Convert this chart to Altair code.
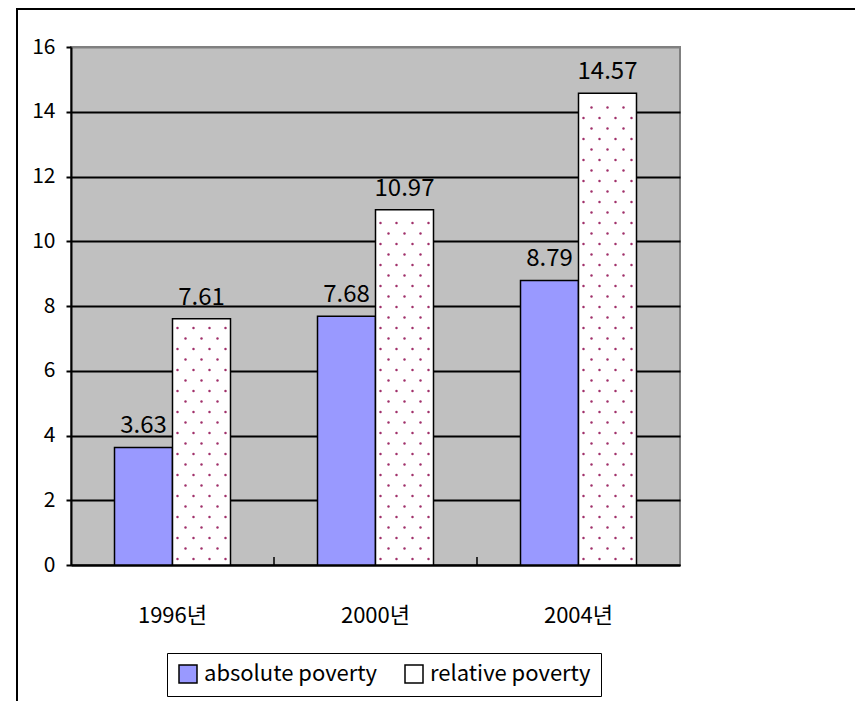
import altair as alt
import pandas as pd

years = ["1996년", "2000년", "2004년"]
absolute = [3.63, 7.68, 8.79]
relative = [7.61, 10.97, 14.57]
series = ["absolute poverty", "relative poverty"]
colors = ["#9999FF", "#FFFFFF"]

W, H = 609, 518
BW = 0.2857
FONT = "Noto Sans CJK KR"

rows = []
for i, yr in enumerate(years):
    rows.append(dict(year=yr, idx=i, series=series[0], value=absolute[i], x0=i - BW, x1=i, xc=i - BW / 2))
    rows.append(dict(year=yr, idx=i, series=series[1], value=relative[i], x0=i, x1=i + BW, xc=i + BW / 2))
df = pd.DataFrame(rows)

# dotted texture for the "relative poverty" bars
ppu_y = H / 16.0
ppu_x = W / 3.0
dots = []
for i, v in enumerate(relative):
    k = 0
    while True:
        ypx = 6 + k * 10.5
        if ypx > v * ppu_y - 4:
            break
        offs = [5, 21, 37, 53] if k % 2 == 0 else [13, 29, 45]
        for o in offs:
            dots.append(dict(x=i + o / ppu_x, y=ypx / ppu_y))
        k += 1
dots_df = pd.DataFrame(dots)

cats_df = pd.DataFrame({"year": years, "idx": list(range(len(years)))})
bounds_df = pd.DataFrame({"b": [i + 0.5 for i in range(len(years) - 1)]})
one = pd.DataFrame({"a": [0]})

xs = alt.Scale(domain=[-0.5, len(years) - 0.5], nice=False, zero=False)
ys = alt.Scale(domain=[0, 16], nice=False)

bars = alt.Chart(df).mark_rect(stroke="black", strokeWidth=1.5).encode(
    x=alt.X("x0:Q", scale=xs, axis=alt.Axis(labels=False, ticks=False, grid=False,
                                             domainColor="black", domainWidth=2, title=None)),
    x2="x1",
    y=alt.Y("value:Q", scale=ys, axis=alt.Axis(
        values=list(range(0, 17, 2)), format="d", title=None,
        tickSize=5, tickColor="black", tickWidth=2,
        labelFont=FONT, labelFontSize=21, labelColor="black", labelPadding=11,
        domainColor="black", domainWidth=2,
        grid=True, gridWidth=2,
        gridColor={"condition": {"test": "datum.value >= 16", "value": "#808080"}, "value": "black"},
    )),
    y2=alt.datum(0),
    color=alt.Color("series:N", scale=alt.Scale(domain=series, range=colors),
                    legend=alt.Legend(orient="none", legendX=96, legendY=606,
                                      direction="horizontal", title=None,
                                      labelFont=FONT, labelFontSize=22, labelColor="black",
                                      labelLimit=400,
                                      symbolType="square", symbolSize=324,
                                      symbolStrokeColor="black", symbolStrokeWidth=1.5,
                                      symbolOpacity=1,
                                      strokeColor="black", padding=10,
                                      columnPadding=24, labelOffset=5)),
)

texture = alt.Chart(dots_df).mark_circle(size=6, color="#a0306a", opacity=1).encode(
    x=alt.X("x:Q", scale=xs, title=None),
    y=alt.Y("y:Q", scale=ys, title=None),
)

values = alt.Chart(df).mark_text(fontSize=24, font=FONT, baseline="alphabetic", dy=-14,
                                 color="black").encode(
    x=alt.X("xc:Q", scale=xs, title=None),
    y=alt.Y("value:Q", scale=ys, title=None),
    text=alt.Text("value:Q", format=".2f"),
)

cat_labels = alt.Chart(cats_df).mark_text(fontSize=22, font=FONT, baseline="alphabetic",
                                          color="black").encode(
    x=alt.X("idx:Q", scale=xs, title=None),
    y=alt.value(H + 58),
    text="year:N",
)

inner_ticks = alt.Chart(bounds_df).mark_rule(color="black", strokeWidth=1.5).encode(
    x=alt.X("b:Q", scale=xs, title=None),
    y=alt.value(H - 8),
    y2=alt.value(H),
)

frame_left = alt.Chart(one).mark_rule(color="black", strokeWidth=2).encode(
    x=alt.value(-54), y=alt.value(-38), y2=alt.value(H + 136),
)
frame_top = alt.Chart(one).mark_rule(color="black", strokeWidth=2).encode(
    x=alt.value(-55), x2=alt.value(W + 175), y=alt.value(-38),
)

chart = alt.layer(bars, texture, values, cat_labels, inner_ticks, frame_left, frame_top).properties(
    width=W, height=H,
    autosize="none",
    padding={"left": 63, "top": 39, "right": 175, "bottom": 136},
    background="white",
).configure_view(stroke="#808080", strokeWidth=2, fill="#C0C0C0")

chart.save("out.html", embed_options={"renderer": "svg", "actions": False})
